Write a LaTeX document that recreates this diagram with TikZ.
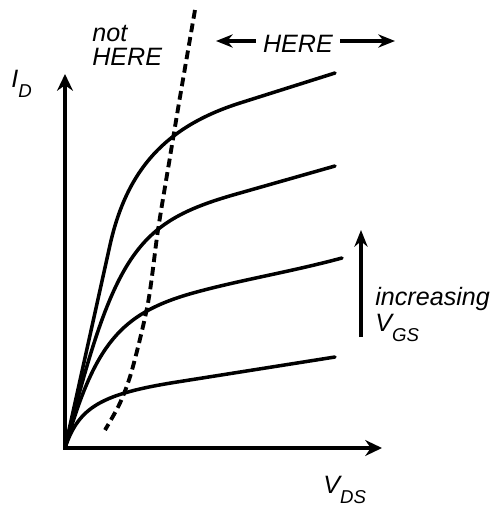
\documentclass[tikz,border=0pt]{standalone}
\usepackage{fontspec}
\setmainfont{Liberation Sans}
\usetikzlibrary{arrows.meta,positioning}
\newcommand{\lowidx}[1]{\raisebox{-5.7pt}{\fontsize{10.6}{12}\selectfont #1}}

\begin{document}
\begin{tikzpicture}[
  x=0.02cm, y=-0.02cm,
  axis/.style={line width=2.3pt, {Stealth[length=9.5pt,width=9pt]}-{Stealth[length=9.5pt,width=9pt]}},
  curve/.style={line width=2pt, line cap=round},
  pinch/.style={line width=2.2pt, dash pattern=on 5pt off 2.8pt},
  arr/.style={line width=2pt, -{Stealth[length=9.5pt,width=7.5pt]}},
  every node/.style={font=\itshape\fontsize{14.3}{13.6}\selectfont, inner sep=0pt}
]
  \useasboundingbox (0,0) rectangle (493,508);
  % axes
  \coordinate (O) at (65,448);
  \coordinate (yend) at (65,74);
  \coordinate (xend) at (382,448);
  \draw[axis] (yend) -- (O) -- (xend);
  \node[anchor=base west] (ID) at (11,87) {I\lowidx{D}};
  \node[anchor=base west] (VDS) at (323,493) {V\lowidx{DS}};
  % output curves, one per gate voltage
  \draw[curve] (O) -- (110,245) .. controls (127,169) and (166,126.5) .. (240,103) -- (335,73);
  \draw[curve] (O) .. controls (114.9,248.3) and (138.3,221.4) .. (240,193) -- (335,166);
  \draw[curve] (O) .. controls (94.6,344.4) and (120.2,313.4) .. (193,293)
    .. controls (240,280) and (290,272) .. (342,258);
  \draw[curve] (O) .. controls (78.6,407.2) and (101,394) .. (177,382) -- (335,357);
  % saturation boundary
  \draw[pinch] plot[smooth] coordinates {(195,10) (180,97) (170,157) (158,230) (148,303) (132,370) (120,403) (105,430)};
  \node[align=left, anchor=north west] (notHere) at (92,25) {not\\HERE};
  % operating region
  \node[inner sep=4pt] (here) at (298,44) {HERE};
  \coordinate (hereL) at (216,41);
  \coordinate (hereR) at (395,41);
  \draw[arr] (here.west |- hereL) -- (hereL);
  \draw[arr] (here.east |- hereR) -- (hereR);
  % gate voltage direction
  \node[align=left, anchor=north west] (incr) at (375,287) {increasing\\[1pt]V\lowidx{GS}};
  \coordinate (vgsBot) at (361,337);
  \coordinate (vgsTop) at (361,230);
  \draw[arr] (vgsBot) -- (vgsTop);
\end{tikzpicture}
\end{document}
